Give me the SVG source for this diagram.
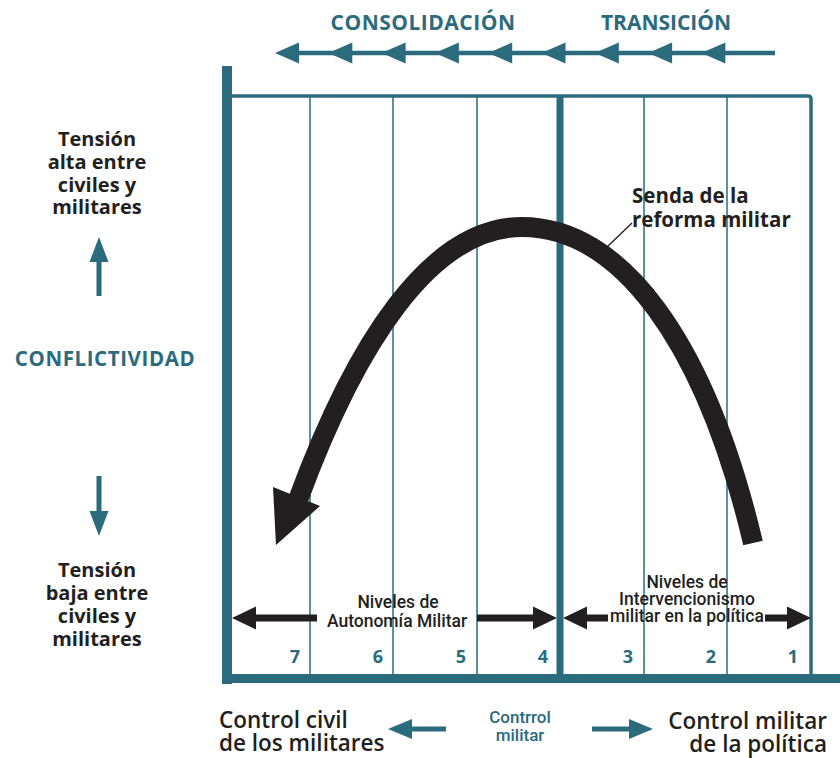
<svg xmlns="http://www.w3.org/2000/svg" width="840" height="758" viewBox="0 0 840 758">
<style>
.teal{fill:#2b6b7d}
.tl{stroke:#2b6b7d;fill:none}
.bk{fill:#231f20}
.hb{font-family:"Open Sans","DejaVu Sans",sans-serif;font-weight:700}
.sb{font-family:"Open Sans","DejaVu Sans",sans-serif;font-weight:600}
.lv{font-family:Roboto,"Liberation Sans",sans-serif;font-weight:500;font-size:17.5px;fill:#231f20;text-anchor:middle}
.num{font-family:"Open Sans",sans-serif;font-weight:700;font-size:18px;fill:#2b6b7d;text-anchor:end}
.lt{font-size:20px;fill:#231f20;text-anchor:middle}
</style>
<rect width="840" height="758" fill="#ffffff"/>

<g id="header">
<text class="hb teal" x="423" y="30" font-size="21" text-anchor="middle" letter-spacing="0.5">CONSOLIDACIÓN</text>
<text class="hb teal" x="666" y="30" font-size="21" text-anchor="middle">TRANSICIÓN</text>
<line class="tl" x1="290" y1="53" x2="775" y2="53" stroke-width="4.5"/>
<g class="teal">
<polygon points="275,53 299,42.5 299,63.5"/>
<polygon points="328.3,53 352.3,42.5 352.3,63.5"/>
<polygon points="381.6,53 405.6,42.5 405.6,63.5"/>
<polygon points="434.9,53 458.9,42.5 458.9,63.5"/>
<polygon points="488.2,53 512.2,42.5 512.2,63.5"/>
<polygon points="541.5,53 565.5,42.5 565.5,63.5"/>
<polygon points="594.8,53 618.8,42.5 618.8,63.5"/>
<polygon points="648.1,53 672.1,42.5 672.1,63.5"/>
<polygon points="701.4,53 725.4,42.5 725.4,63.5"/>
</g>
</g>

<g id="frame">
<line class="tl" x1="310" y1="96" x2="310" y2="678" stroke-width="1.5"/>
<line class="tl" x1="393" y1="96" x2="393" y2="678" stroke-width="1.5"/>
<line class="tl" x1="477" y1="96" x2="477" y2="678" stroke-width="1.5"/>
<line class="tl" x1="644" y1="96" x2="644" y2="678" stroke-width="1.5"/>
<line class="tl" x1="727" y1="96" x2="727" y2="678" stroke-width="1.5"/>
<path class="tl" d="M230,96 H808 Q811,96 811,99 V678" stroke-width="3.5"/>
<line class="tl" x1="560" y1="96" x2="560" y2="678" stroke-width="7"/>
<rect class="teal" x="222" y="66" width="10" height="618"/>
<rect class="teal" x="222" y="674" width="618" height="9"/>
</g>

<g id="numbers">
<text class="num" x="300" y="663">7</text>
<text class="num" x="383" y="663">6</text>
<text class="num" x="466" y="663">5</text>
<text class="num" x="548" y="663">4</text>
<text class="num" x="633" y="663">3</text>
<text class="num" x="716" y="663">2</text>
<text class="num" x="798" y="663">1</text>
</g>

<g id="left-axis">
<text class="hb lt" x="97" y="146">Tensión</text>
<text class="hb lt" x="97" y="169">alta entre</text>
<text class="hb lt" x="97" y="192">civiles y</text>
<text class="hb lt" x="97" y="214">militares</text>
<line class="tl" x1="99" y1="296" x2="99" y2="258" stroke-width="5"/>
<polygon class="teal" points="99,237 89.5,262 108.5,262"/>
<text class="hb teal" x="105" y="366" font-size="20.5" text-anchor="middle" letter-spacing="0.6">CONFLICTIVIDAD</text>
<line class="tl" x1="99" y1="476" x2="99" y2="514" stroke-width="5"/>
<polygon class="teal" points="99,536 89.5,511 108.5,511"/>
<text class="hb lt" x="97" y="577">Tensión</text>
<text class="hb lt" x="97" y="600">baja entre</text>
<text class="hb lt" x="97" y="623">civiles y</text>
<text class="hb lt" x="97" y="646">militares</text>
</g>

<g id="path-arrow">
<path d="M753,543 C705,340 620,227 522,227 C430,227 355,345 298,500" fill="none" stroke="#231f20" stroke-width="20"/>
<polygon class="bk" points="276,545 273,487 320,506"/>
<line x1="607" y1="247" x2="632" y2="223" stroke="#231f20" stroke-width="1.3"/>
<text class="hb" x="632" y="203" font-size="20.5" fill="#231f20">Senda de la</text>
<text class="hb" x="632" y="227" font-size="20.5" fill="#231f20">reforma militar</text>
</g>

<g id="autonomia">
<line x1="250" y1="618" x2="317" y2="618" stroke="#231f20" stroke-width="7"/>
<line x1="477" y1="618" x2="536" y2="618" stroke="#231f20" stroke-width="7"/>
<polygon class="bk" points="232,618 256,606.5 256,629.5"/>
<polygon class="bk" points="557,618 533,606.5 533,629.5"/>
<text class="lv" x="398" y="608">Niveles de</text>
<text class="lv" x="397" y="627">Autonomía Militar</text>
</g>

<g id="intervencionismo">
<line x1="582" y1="618" x2="608" y2="618" stroke="#231f20" stroke-width="7"/>
<line x1="765" y1="618" x2="790" y2="618" stroke="#231f20" stroke-width="7"/>
<polygon class="bk" points="563,618 587,606.5 587,629.5"/>
<polygon class="bk" points="811,618 787,606.5 787,629.5"/>
<text class="lv" x="687" y="588">Niveles de</text>
<text class="lv" x="687" y="605">Intervencionismo</text>
<text class="lv" x="687" y="622">militar en la política</text>
</g>

<g id="bottom">
<text class="sb" x="219" y="728" font-size="22.5" fill="#231f20">Control civil</text>
<text class="sb" x="219" y="751" font-size="22.5" fill="#231f20">de los militares</text>
<line class="tl" x1="408" y1="729" x2="446" y2="729" stroke-width="5"/>
<polygon class="teal" points="388,729 412,719 412,739"/>
<text x="520" y="723" font-family="Roboto,'Liberation Sans',sans-serif" font-weight="500" font-size="17" class="teal" text-anchor="middle">Contrrol</text>
<text x="520" y="741" font-family="Roboto,'Liberation Sans',sans-serif" font-weight="500" font-size="17" class="teal" text-anchor="middle">militar</text>
<line class="tl" x1="592" y1="729" x2="632" y2="729" stroke-width="5"/>
<polygon class="teal" points="653,729 629,719 629,739"/>
<text class="sb" x="827" y="729" font-size="22.5" fill="#231f20" text-anchor="end">Control militar</text>
<text class="sb" x="827" y="752" font-size="22.5" fill="#231f20" text-anchor="end">de la política</text>
</g>
</svg>
